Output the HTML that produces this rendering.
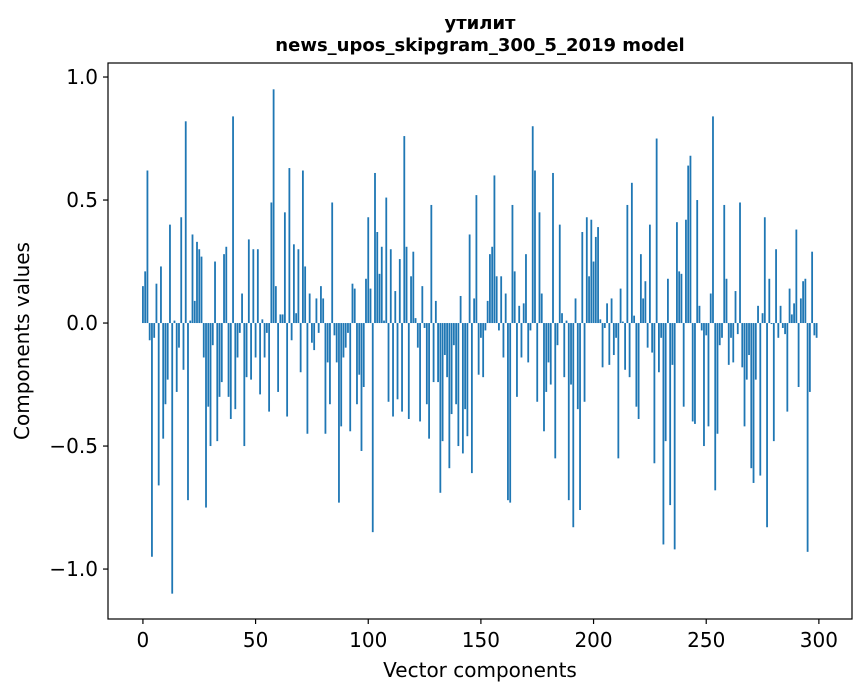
<!DOCTYPE html>
<html><head><meta charset="utf-8"><style>
html,body{margin:0;padding:0;background:#fff;}
svg{display:block;font-family:"DejaVu Sans","Liberation Sans",sans-serif;}
</style></head><body>
<svg id="chart" width="867" height="696">
<text x="480" y="29" text-anchor="middle" font-size="18" font-weight="bold">утилит</text>
<text x="480" y="51" text-anchor="middle" font-size="18" font-weight="bold">news_upos_skipgram_300_5_2019 model</text>
<text x="480" y="677" text-anchor="middle" font-size="20">Vector components</text>
<text x="0" y="0" transform="translate(29,341) rotate(-90)" text-anchor="middle" font-size="20">Components values</text>
<g id="bars"></g>
<g id="axes"></g>
</svg>
<script>
const values = [0.15,0.21,0.62,-0.07,-0.95,-0.06,0.16,-0.66,0.23,-0.47,
-0.33,-0.23,0.40,-1.10,0.01,-0.28,-0.10,0.43,-0.19,0.82,
-0.72,0.01,0.36,0.09,0.33,0.30,0.27,-0.14,-0.75,-0.34,
-0.50,-0.09,0.25,-0.48,-0.30,-0.24,0.28,0.31,-0.30,-0.39,
0.84,-0.35,-0.14,-0.04,0.12,-0.50,-0.22,0.34,-0.23,0.30,
-0.14,0.30,-0.29,0.015,-0.14,-0.04,-0.36,0.49,0.95,0.15,
-0.28,0.035,0.035,0.45,-0.38,0.63,-0.07,0.32,0.04,0.30,
-0.20,0.62,0.23,-0.45,0.12,-0.08,-0.11,0.10,-0.04,0.15,
0.10,-0.45,-0.16,-0.33,0.49,-0.05,-0.16,-0.73,-0.42,-0.14,
-0.10,-0.04,-0.44,0.16,0.14,-0.33,-0.21,-0.52,-0.26,0.18,
0.43,0.14,-0.85,0.61,0.37,0.20,0.31,0.01,0.51,-0.32,
0.30,-0.38,0.13,-0.31,0.26,-0.36,0.76,0.31,-0.39,0.19,
0.29,0.02,-0.10,-0.40,0.15,-0.02,-0.33,-0.47,0.48,-0.24,
0.09,-0.24,-0.69,-0.48,-0.13,-0.22,-0.59,-0.37,-0.09,-0.33,
-0.50,0.11,-0.53,-0.35,-0.46,0.36,-0.61,0.10,0.52,-0.21,
-0.06,-0.22,-0.03,0.09,0.28,0.31,0.60,0.19,-0.03,0.19,
-0.14,0.12,-0.72,-0.73,0.48,0.21,-0.30,0.07,-0.14,0.08,
0.28,-0.16,-0.03,0.80,0.62,-0.32,0.45,0.12,-0.44,-0.28,
-0.16,-0.25,0.61,-0.55,-0.09,0.40,0.04,-0.22,0.01,-0.72,
-0.25,-0.83,0.10,-0.35,-0.76,0.37,-0.32,0.43,0.19,0.42,
0.25,0.35,0.39,0.015,-0.18,-0.02,0.08,-0.17,0.10,-0.13,
-0.06,-0.55,0.14,0.006,-0.19,0.48,-0.22,0.57,0.03,-0.34,
-0.39,0.28,0.10,0.17,-0.10,0.40,-0.12,-0.57,0.75,-0.20,
-0.06,-0.90,-0.48,0.18,-0.74,-0.17,-0.92,0.41,0.21,0.20,
-0.34,0.42,0.64,0.68,-0.40,-0.41,0.50,0.07,-0.03,-0.50,
-0.05,-0.42,0.12,0.84,-0.68,-0.45,-0.09,-0.06,0.48,0.18,
-0.17,-0.06,-0.16,0.13,-0.045,0.49,-0.18,-0.42,-0.23,-0.13,
-0.59,-0.65,-0.23,0.07,-0.62,0.04,0.43,-0.83,0.18,-0.004,
-0.48,0.30,-0.06,0.07,-0.02,-0.045,-0.36,0.14,0.035,0.08,
0.38,-0.26,0.10,0.17,0.18,-0.93,-0.28,0.29,-0.05,-0.06];
const xTicks = [0,50,100,150,200,250,300];
const yTicks = [-1.0,-0.5,0.0,0.5,1.0];
const yTickLabels = ["\u22121.0","\u22120.5","0.0","0.5","1.0"];

const L=108,R=852,T=63,B=619;
const xMin=-15.5,xMax=314.7,yMin=-1.203,yMax=1.057;
function xs(v){return L+(v-xMin)/(xMax-xMin)*(R-L);}
function ys(v){return T+(yMax-v)/(yMax-yMin)*(B-T);}
const NS="http://www.w3.org/2000/svg";
const gb=document.getElementById('bars');
values.forEach((v,i)=>{
  const r=document.createElementNS(NS,'rect');
  const x0=xs(i-0.4),x1=xs(i+0.4);
  const y0=ys(Math.max(v,0)),y1=ys(Math.min(v,0));
  r.setAttribute('x',x0);r.setAttribute('width',x1-x0);
  r.setAttribute('y',y0);r.setAttribute('height',Math.max(y1-y0,0.01));
  r.setAttribute('fill','#1f77b4');
  
  
  gb.appendChild(r);
});
const ga=document.getElementById('axes');
const frame=document.createElementNS(NS,'rect');
frame.setAttribute('x',L);frame.setAttribute('y',T);frame.setAttribute('width',R-L);frame.setAttribute('height',B-T);
frame.setAttribute('fill','none');frame.setAttribute('stroke','#000');frame.setAttribute('stroke-width','1.2');


ga.appendChild(frame);
xTicks.forEach(t=>{
  const x=xs(t);
  const l=document.createElementNS(NS,'line');
  l.setAttribute('x1',x);l.setAttribute('x2',x);l.setAttribute('y1',B);l.setAttribute('y2',B+5);
  l.setAttribute('stroke','#000');l.setAttribute('stroke-width','1.2');
  
  
  ga.appendChild(l);
  const tx=document.createElementNS(NS,'text');
  tx.setAttribute('x',x);tx.setAttribute('y',B+28);tx.setAttribute('text-anchor','middle');tx.setAttribute('font-size','20');
  tx.textContent=t;
  
  
  ga.appendChild(tx);
});
yTicks.forEach((t,k)=>{
  const y=ys(t);
  const l=document.createElementNS(NS,'line');
  l.setAttribute('x1',L-5);l.setAttribute('x2',L);l.setAttribute('y1',y);l.setAttribute('y2',y);
  l.setAttribute('stroke','#000');l.setAttribute('stroke-width','1.2');
  
  
  ga.appendChild(l);
  const tx=document.createElementNS(NS,'text');
  tx.setAttribute('x',L-10);tx.setAttribute('y',y+7);tx.setAttribute('text-anchor','end');tx.setAttribute('font-size','20');
  tx.textContent=yTickLabels[k];
  
  
  ga.appendChild(tx);
});
</script>
</body></html>
